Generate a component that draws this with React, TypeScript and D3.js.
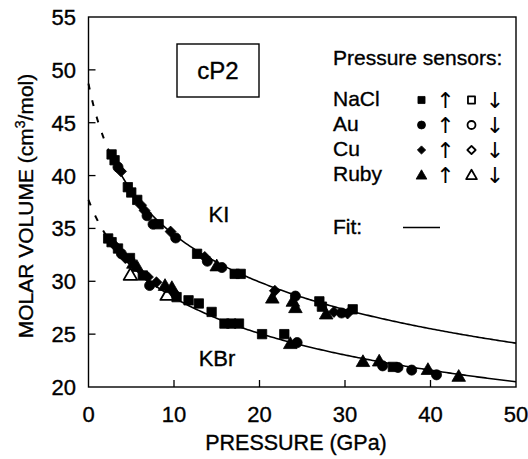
import React from "react";
import * as d3 from "d3";

// ---- data: KI (cP2) ----
const kiP = [2.7, 3.05, 3.45, 3.8, 4.6, 5.0, 5.7, 6.15, 6.55, 6.85, 7.55, 8.2, 9.6, 10.2, 12.7, 13.6, 13.9, 15.0, 15.6, 17.1, 17.8, 21.8, 21.5, 24.2, 23.9, 24.2, 27.0, 27.3, 27.8, 28.7, 29.6, 30.3, 30.9];
const kiV = [42.0, 41.45, 40.8, 40.4, 38.9, 38.4, 37.7, 37.2, 36.7, 36.2, 35.4, 35.4, 34.7, 34.1, 32.6, 32.3, 31.9, 31.45, 31.3, 30.7, 30.7, 29.1, 28.4, 28.6, 28.1, 27.5, 28.1, 27.6, 26.9, 27.1, 27.0, 26.95, 27.35];
const kiSensor = ["NaCl", "NaCl", "Au", "Cu", "NaCl", "NaCl", "NaCl", "Cu", "Cu", "Au", "Au", "NaCl", "Cu", "Au", "NaCl", "Cu", "Au", "Ruby", "Au", "NaCl", "NaCl", "Cu", "Ruby", "Au", "Ruby", "Ruby", "NaCl", "NaCl", "Ruby", "Cu", "Au", "Cu", "NaCl"];
const kiDir = kiP.map(() => "up");

// ---- data: KBr (cP2) ----
const kbrP = [2.3, 2.7, 3.05, 3.45, 3.85, 4.3, 4.85, 5.25, 5.65, 4.9, 6.35, 6.95, 7.15, 7.95, 8.95, 9.2, 9.75, 10.0, 10.3, 11.7, 12.9, 14.4, 15.9, 16.7, 17.6, 20.3, 22.9, 23.6, 24.4, 32.1, 34.0, 34.4, 35.6, 36.2, 37.8, 39.7, 40.7, 43.3];
const kbrV = [34.05, 33.7, 33.4, 33.1, 32.6, 32.2, 32.2, 31.7, 31.4, 30.6, 30.55, 30.4, 29.6, 29.9, 29.6, 28.7, 29.4, 28.9, 28.5, 28.2, 27.9, 27.1, 26.0, 26.0, 26.0, 25.0, 25.0, 24.1, 24.2, 22.4, 22.45, 22.0, 21.9, 21.85, 21.6, 21.65, 21.15, 21.0];
const kbrSensor = ["NaCl", "NaCl", "Cu", "NaCl", "Au", "Cu", "NaCl", "Ruby", "Ruby", "Ruby", "NaCl", "Cu", "Au", "Cu", "Ruby", "Ruby", "Ruby", "Cu", "NaCl", "NaCl", "NaCl", "NaCl", "NaCl", "NaCl", "NaCl", "NaCl", "NaCl", "Ruby", "Au", "Ruby", "Ruby", "Au", "NaCl", "Au", "Au", "Ruby", "Au", "Ruby"];
const kbrDir = ["up", "up", "up", "up", "up", "up", "up", "up", "up", "down", "up", "up", "up", "up", "up", "down", "up", "up", "up", "up", "up", "up", "up", "up", "up", "up", "up", "up", "up", "up", "up", "up", "up", "up", "up", "up", "up", "up"];

// ---- Birch–Murnaghan fit parameters [V0, K0, K'] and start of measured range ----
const kiFit = [48.7, 12.0, 5.0];
const kbrFit = [37.7, 17.5, 5.0];
const kiFitStart = 2.6;
const kbrFitStart = 2.1;

// ---- axes & legend ----
const xTicks = [0, 10, 20, 30, 40, 50];
const yTicks = [20, 25, 30, 35, 40, 45, 50, 55];
const legendSensors = ["NaCl", "Au", "Cu", "Ruby"];

const W = 528;
const H = 459;
const FONT = "'Liberation Sans', Arial, Helvetica, sans-serif";

const x = d3.scaleLinear().domain([0, 50]).range([88.5, 516]);
const y = d3.scaleLinear().domain([20, 55]).range([387, 17]);

function bmPressure(V: number, p: number[]) {
  const [V0, K0, Kp] = p;
  const r = V0 / V;
  const e23 = Math.pow(r, 2 / 3);
  return 1.5 * K0 * (Math.pow(r, 7 / 3) - Math.pow(r, 5 / 3)) * (1 + 0.75 * (Kp - 4) * (e23 - 1));
}

function bmVolume(P: number, p: number[]) {
  let lo = p[0] * 0.2;
  let hi = p[0];
  for (let i = 0; i < 60; i++) {
    const mid = (lo + hi) / 2;
    if (bmPressure(mid, p) > P) lo = mid;
    else hi = mid;
  }
  return (lo + hi) / 2;
}

function fitPoints(p: number[], from: number, to: number) {
  const pts: [number, number][] = [];
  const n = 200;
  for (let i = 0; i <= n; i++) {
    const P = from + ((to - from) * i) / n;
    pts.push([P, bmVolume(P, p)]);
  }
  return pts;
}

const line = d3
  .line<[number, number]>()
  .x((d) => x(d[0]))
  .y((d) => y(d[1]))
  .curve(d3.curveLinear);

const symbolTypes: Record<string, d3.SymbolType> = {
  NaCl: d3.symbolSquare,
  Au: d3.symbolCircle,
  Cu: d3.symbolSquare, // drawn rotated 45° as a diamond
  Ruby: d3.symbolTriangle,
};
const dataSize: Record<string, number> = { NaCl: 88, Au: 80, Cu: 60, Ruby: 80 };
const legendSize: Record<string, number> = { NaCl: 50, Au: 50, Cu: 34, Ruby: 50 };

function Marker({ px, py, sensor, dir, sizes }: { px: number; py: number; sensor: string; dir: string; sizes: Record<string, number> }) {
  const d = d3.symbol().type(symbolTypes[sensor]).size(sizes[sensor])() || "";
  const open = dir === "down";
  const dy = sensor === "Ruby" ? 1 : 0;
  const rot = sensor === "Cu" ? " rotate(45)" : "";
  return (
    <path
      d={d}
      transform={`translate(${px},${py + dy})${rot}`}
      fill={open ? "#fff" : "#000"}
      stroke="#000"
      strokeWidth={open ? 1.8 : 0.8}
      strokeLinejoin="round"
    />
  );
}

function Series({ P, V, S, D }: { P: number[]; V: number[]; S: string[]; D: string[] }) {
  return (
    <g>
      {P.map((p, i) => (
        <Marker key={i} px={x(p)} py={y(V[i])} sensor={S[i]} dir={D[i]} sizes={dataSize} />
      ))}
    </g>
  );
}

const textStyle = { fill: "#000", stroke: "#000", strokeWidth: 0.35 };

export default function App() {
  const x0 = x(0);
  const x1 = x(50);
  const y0 = y(20);
  const y1 = y(55);
  const tickLen = 7;

  const kiDash = fitPoints(kiFit, 0, kiFitStart);
  const kiSolid = fitPoints(kiFit, kiFitStart, 50);
  const kbrDash = fitPoints(kbrFit, 0, kbrFitStart);
  const kbrSolid = fitPoints(kbrFit, kbrFitStart, 50);

  const legX = 333;
  const legRow0 = 106;
  const legStep = 25;

  return (
    <svg
      width={W}
      height={H}
      viewBox={`0 0 ${W} ${H}`}
      style={{ position: "absolute", left: 0, top: 0, background: "#fff" }}
      fontFamily={FONT}
    >
      <rect x={0} y={0} width={W} height={H} fill="#fff" />

      {/* frame */}
      <rect x={x0} y={y1} width={x1 - x0} height={y0 - y1} fill="none" stroke="#000" strokeWidth={1.4} />

      {/* y ticks and labels */}
      {yTicks.map((t) => (
        <g key={`y${t}`}>
          {t > 20 && t < 55 && <line x1={x0} x2={x0 + tickLen} y1={y(t)} y2={y(t)} stroke="#000" strokeWidth={1.3} />}
          <text x={76} y={y(t) + 8} fontSize={22} textAnchor="end" {...textStyle}>
            {t}
          </text>
        </g>
      ))}

      {/* x ticks and labels */}
      {xTicks.map((t) => (
        <g key={`x${t}`}>
          {t > 0 && t < 50 && <line x1={x(t)} x2={x(t)} y1={y0} y2={y0 - tickLen} stroke="#000" strokeWidth={1.3} />}
          <text x={x(t)} y={422} fontSize={22} textAnchor="middle" {...textStyle}>
            {t}
          </text>
        </g>
      ))}

      {/* axis titles */}
      <text x={296} y={450} fontSize={21.5} textAnchor="middle" {...textStyle}>
        PRESSURE (GPa)
      </text>
      <text transform="translate(33,206) rotate(-90)" fontSize={21} textAnchor="middle" {...textStyle}>
        MOLAR VOLUME (cm<tspan dy={-8} fontSize={14}>3</tspan>
        <tspan dy={8}>/mol)</tspan>
      </text>

      {/* fits */}
      <path d={line(kiDash) || ""} fill="none" stroke="#000" strokeWidth={2} strokeDasharray="6 11" />
      <path d={line(kbrDash) || ""} fill="none" stroke="#000" strokeWidth={2} strokeDasharray="6 11" />
      <path d={line(kiSolid) || ""} fill="none" stroke="#000" strokeWidth={1.6} />
      <path d={line(kbrSolid) || ""} fill="none" stroke="#000" strokeWidth={1.6} />

      {/* data */}
      <Series P={kiP} V={kiV} S={kiSensor} D={kiDir} />
      <Series P={kbrP} V={kbrV} S={kbrSensor} D={kbrDir} />

      {/* phase box */}
      <rect x={177} y={44} width={82} height={53} fill="#fff" stroke="#000" strokeWidth={1.4} />
      <text x={218} y={79} fontSize={24} textAnchor="middle" {...textStyle}>
        cP2
      </text>

      {/* compound labels */}
      <text x={219} y={222} fontSize={22} textAnchor="middle" {...textStyle}>
        KI
      </text>
      <text x={217} y={366} fontSize={22} textAnchor="middle" {...textStyle}>
        KBr
      </text>

      {/* legend */}
      <text x={legX} y={65} fontSize={21} {...textStyle}>
        Pressure sensors:
      </text>
      {legendSensors.map((s, i) => {
        const by = legRow0 + i * legStep;
        return (
          <g key={s}>
            <text x={legX} y={by} fontSize={21} {...textStyle}>
              {s}
            </text>
            <Marker px={421.5} py={by - 6} sensor={s} dir="up" sizes={legendSize} />
            <text x={445.5} y={by + 2} fontSize={22} textAnchor="middle" fill="#000" fontFamily="'DejaVu Sans', sans-serif">
              ↑
            </text>
            <Marker px={471.5} py={by - 6} sensor={s} dir="down" sizes={legendSize} />
            <text x={495} y={by + 2} fontSize={22} textAnchor="middle" fill="#000" fontFamily="'DejaVu Sans', sans-serif">
              ↓
            </text>
          </g>
        );
      })}
      <text x={legX} y={234} fontSize={21} {...textStyle}>
        Fit:
      </text>
      <line x1={403} x2={440} y1={227.5} y2={227.5} stroke="#000" strokeWidth={1.6} />
    </svg>
  );
}
